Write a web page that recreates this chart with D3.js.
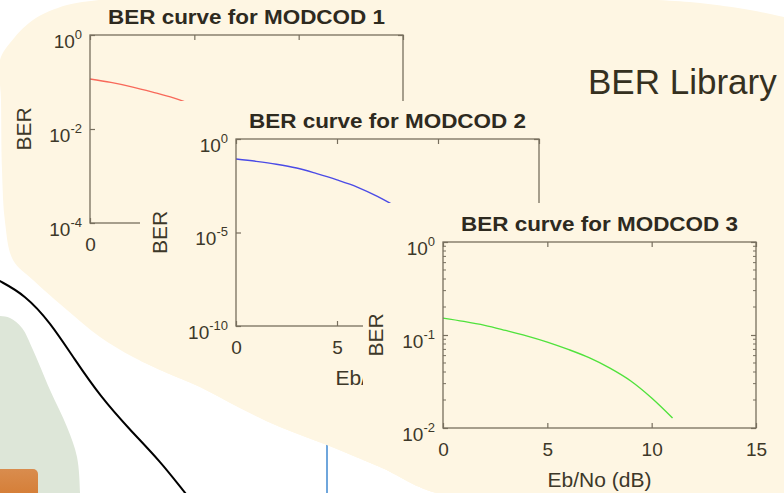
<!DOCTYPE html>
<html>
<head>
<meta charset="utf-8">
<script src="https://cdn.jsdelivr.net/npm/d3@7"></script>
<style>
  html, body { margin: 0; padding: 0; background: #ffffff; overflow: hidden; }
  svg { display: block; }
</style>
</head>
<body>
<svg id="chart" width="784" height="493"></svg>
<script>
// ---- data -------------------------------------------------------------
const ebNo = [0, 1, 2, 3, 4, 5, 6, 7, 8, 9, 10, 11];               // Eb/No (dB)
const berModcod1 = [0.116, 0.098, 0.079, 0.061, 0.046, 0.032, 0.021, 0.012, 0.0062, 0.0028, 0.0011, 0.0004];
const berModcod2 = [0.085, 0.064, 0.045, 0.028, 0.014, 0.0065, 0.0027, 0.00085, 0.00021, 0.000035, 0.0000045, 0.0000004];
const berModcod3 = [0.152, 0.140, 0.127, 0.112, 0.098, 0.084, 0.070, 0.057, 0.044, 0.032, 0.021, 0.0128];
const xTicks = [0, 5, 10, 15];
const yTicks1 = [1, 1e-2, 1e-4];
const yTicks2 = [1, 1e-5, 1e-10];
const yTicks3 = [1, 1e-1, 1e-2];
const titles = ["BER curve for MODCOD 1", "BER curve for MODCOD 2", "BER curve for MODCOD 3"];
const xLabel = "Eb/No (dB)";
const yLabel = "BER";
const libraryLabel = "BER Library";

// ---- styling ----------------------------------------------------------
const BEIGE = "#fef6e3";
const AXIS = "#776f5e";
const TEXT = "#3d3829";
const TITLE = "#2e2a1f";
const FONT = "'Liberation Sans', Arial, Helvetica, sans-serif";

const svg = d3.select("#chart");
const defs = svg.append("defs");

svg.append("rect").attr("width", 784).attr("height", 493).attr("fill", "#ffffff");

// ---- background decoration --------------------------------------------
const smooth = d3.line().curve(d3.curveCatmullRom.alpha(0.5));
const basis = d3.line().curve(d3.curveBasis);

// pale green region at the lower left
svg.append("path")
  .attr("d", smooth([[-12, 316], [0, 316], [10, 318], [22, 328], [33, 350], [50, 390], [67, 427], [77, 457], [80, 493], [80, 510]]) + "L-12,510Z")
  .attr("fill", "#dde6d8");

// orange block
const og = defs.append("linearGradient").attr("id", "orangeGrad").attr("x1", 0).attr("y1", 0).attr("x2", 0).attr("y2", 1);
og.append("stop").attr("offset", "0%").attr("stop-color", "#d98c4e");
og.append("stop").attr("offset", "100%").attr("stop-color", "#d3772a");
svg.append("rect").attr("x", -8).attr("y", 469).attr("width", 46).attr("height", 40).attr("rx", 5)
  .attr("fill", "url(#orangeGrad)");

// black connector curve
svg.append("path")
  .attr("d", basis([[-10, 276], [0, 281], [25, 295], [50, 322], [75, 360], [100, 396], [130, 430], [160, 461], [185, 493], [195, 505]]))
  .attr("fill", "none").attr("stroke", "#000").attr("stroke-width", 2);

// blue connector
svg.append("line").attr("x1", 327).attr("x2", 327).attr("y1", 443).attr("y2", 495)
  .attr("stroke", "#6fa6dc").attr("stroke-width", 2);

// beige library region
const blobPts = [
  [110, -1], [300, -6], [500, -6], [657, 0], [700, 3], [750, 10], [784, 17], [800, 21]
];
const blobBottom = [
  [800, 500], [445, 495], [380, 467], [327, 445], [280, 427], [240, 408], [200, 387], [167, 373],
  [133, 357], [100, 337], [67, 310], [33, 280], [13, 260], [5, 222], [2, 170], [1, 100], [0, 60],
  [10, 43], [33, 20], [67, 5], [110, -1]
];
const blobD = smooth(blobPts) + "L" + smooth(blobBottom).slice(1) + "Z";
svg.append("path").attr("d", blobD).attr("fill", BEIGE);
defs.append("clipPath").attr("id", "blobClip").append("path").attr("d", blobD);

svg.append("text")
  .attr("x", 588).attr("y", 94)
  .attr("font-family", FONT).attr("font-size", 35).attr("fill", "#35301f")
  .text(libraryLabel);

// ---- BER plots --------------------------------------------------------
function logTickLabel(text) {
  text.each(function (v) {
    const t = d3.select(this);
    const e = Math.round(Math.log10(v));
    t.text(null).attr("dy", null).attr("y", 12);
    t.append("tspan").text("10");
    t.append("tspan").attr("font-size", 13).attr("dy", -9).text(String(e));
  });
}

function drawPlot(cfg) {
  const g = svg.append("g");
  const x = d3.scaleLinear().domain([0, 15]).range([cfg.left, cfg.right]);
  const y = d3.scaleLog().domain(cfg.yDomain).range([cfg.bottom, cfg.top]);

  // curve
  g.append("path")
    .datum(ebNo.map((e, i) => [e, cfg.values[i]]))
    .attr("fill", "none").attr("stroke", cfg.color).attr("stroke-width", 1.4)
    .attr("d", d3.line().curve(d3.curveMonotoneX).x(d => x(d[0])).y(d => y(d[1])));

  // box
  g.append("rect")
    .attr("x", cfg.left).attr("y", cfg.top)
    .attr("width", cfg.right - cfg.left).attr("height", cfg.bottom - cfg.top)
    .attr("fill", "none").attr("stroke", AXIS).attr("stroke-width", 1.3);

  // bottom axis
  const bx = g.append("g").attr("transform", `translate(0,${cfg.bottom})`)
    .call(d3.axisBottom(x).tickValues(xTicks).tickSizeInner(-5).tickSizeOuter(0).tickPadding(15).tickFormat(d3.format("d")));
  // top axis (ticks only)
  const tx = g.append("g").attr("transform", `translate(0,${cfg.top})`)
    .call(d3.axisTop(x).tickValues(xTicks).tickSizeInner(-5).tickSizeOuter(0).tickFormat(""));
  // left axis
  const ly = g.append("g").attr("transform", `translate(${cfg.left},0)`)
    .call(d3.axisLeft(y).tickValues(cfg.yTicks).tickSizeInner(-5).tickSizeOuter(0).tickPadding(8));
  // right axis (ticks only)
  const ry = g.append("g").attr("transform", `translate(${cfg.right},0)`)
    .call(d3.axisRight(y).tickValues(cfg.yTicks).tickSizeInner(-5).tickSizeOuter(0).tickFormat(""));

  [bx, tx, ly, ry].forEach(a => {
    a.select(".domain").remove();
    a.selectAll(".tick line").attr("stroke", AXIS).attr("stroke-width", 1.2);
    a.selectAll("text").attr("font-family", FONT).attr("font-size", 19).attr("fill", TEXT);
  });
  ly.selectAll(".tick text").call(logTickLabel);

  // minor log ticks
  if (cfg.minor) {
    const minors = [];
    const [lo, hi] = cfg.yDomain;
    for (let p = Math.round(Math.log10(lo)); p < Math.round(Math.log10(hi)); p++) {
      for (let k = 2; k <= 9; k++) minors.push(k * Math.pow(10, p));
    }
    g.selectAll(null).data(minors).join("line")
      .attr("x1", cfg.left).attr("x2", cfg.left + 3)
      .attr("y1", d => y(d)).attr("y2", d => y(d))
      .attr("stroke", AXIS).attr("stroke-width", 1);
    g.selectAll(null).data(minors).join("line")
      .attr("x1", cfg.right).attr("x2", cfg.right - 3)
      .attr("y1", d => y(d)).attr("y2", d => y(d))
      .attr("stroke", AXIS).attr("stroke-width", 1);
  }

  // title
  g.append("text")
    .attr("x", (cfg.left + cfg.right) / 2).attr("y", cfg.top - 11)
    .attr("text-anchor", "middle")
    .attr("font-family", FONT).attr("font-weight", "bold").attr("font-size", 20)
    .attr("textLength", 277).attr("lengthAdjust", "spacingAndGlyphs")
    .attr("fill", TITLE).text(cfg.title);

  // axis labels
  g.append("text")
    .attr("x", (cfg.left + cfg.right) / 2).attr("y", cfg.bottom + 59)
    .attr("text-anchor", "middle")
    .attr("font-family", FONT).attr("font-size", 21).attr("fill", TEXT)
    .text(xLabel);
  g.append("text")
    .attr("transform", `translate(${cfg.left - cfg.yLabelGap},${(cfg.top + cfg.bottom) / 2}) rotate(-90)`)
    .attr("text-anchor", "middle")
    .attr("font-family", FONT).attr("font-size", 21).attr("fill", TEXT)
    .text(yLabel);
}

function panel(x0, y0) {
  svg.append("rect").attr("x", x0).attr("y", y0).attr("width", 784 - x0).attr("height", 493 - y0)
    .attr("fill", BEIGE).attr("clip-path", "url(#blobClip)");
}

drawPlot({ left: 90, right: 403, top: 35, bottom: 223, yDomain: [1e-4, 1], yTicks: yTicks1,
           values: berModcod1, color: "#f8695a", title: titles[0], minor: false, yLabelGap: 59 });
panel(140, 101);
drawPlot({ left: 236, right: 539, top: 139, bottom: 326, yDomain: [1e-10, 1], yTicks: yTicks2,
           values: berModcod2, color: "#4b4be6", title: titles[1], minor: false, yLabelGap: 69 });
panel(363, 203);
drawPlot({ left: 443, right: 756, top: 242, bottom: 428, yDomain: [1e-2, 1], yTicks: yTicks3,
           values: berModcod3, color: "#50e23c", title: titles[2], minor: true, yLabelGap: 60 });
</script>
</body>
</html>
